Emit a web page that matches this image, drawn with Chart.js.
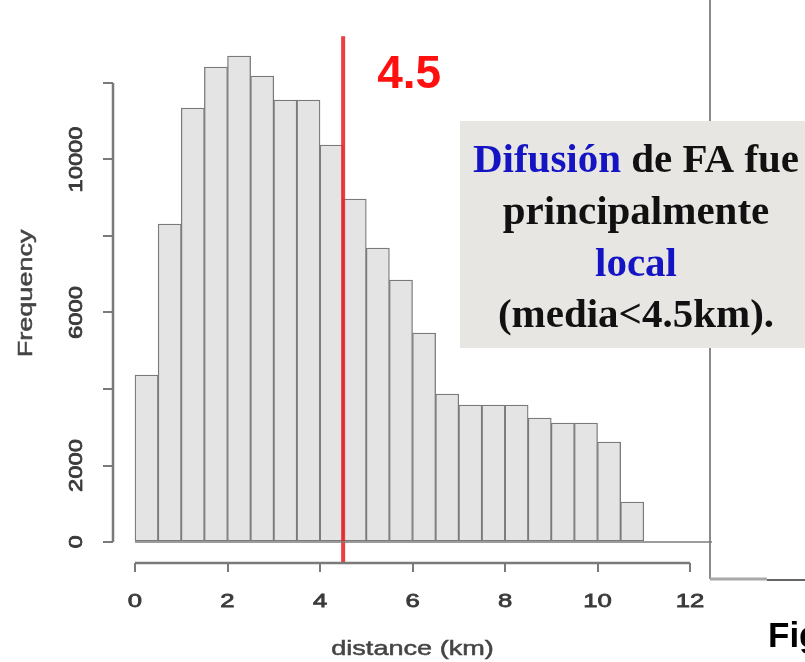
<!DOCTYPE html>
<html><head><meta charset="utf-8">
<script src="https://cdn.jsdelivr.net/npm/chart.js@4.4.1/dist/chart.umd.min.js"></script>
<style>html,body{margin:0;padding:0;background:#fff;}#wrap{position:relative;width:805px;height:662px;}canvas{display:block;}</style>
</head><body><div id="wrap"><canvas id="c" width="805" height="662"></canvas></div>
<script>
// ---- data ----
const binStarts = [0,0.5,1,1.5,2,2.5,3,3.5,4,4.5,5,5.5,6,6.5,7,7.5,8,8.5,9,9.5,10,10.5];
const binWidth = 0.5;
const frequencies = [4366,8314,11346,12418,12706,12183,11556,11556,10379,8967,7686,6850,5464,3869,3582,3582,3582,3242,3111,3111,2614,1046];
const meanDistance = 4.5;
const meanLineTop = 13220;
const meanLabel = '4.5';
const xTickValues = [0,2,4,6,8,10,12];
const xTickLabels = ['0','2','4','6','8','10','12'];
const yTickValues = [0,2000,4000,6000,8000,10000,12000];
const yTickLabels = ['0','2000','','6000','','10000',''];
const xTitle = 'distance (km)';
const yTitle = 'Frequency';
const noteLine1 = [['Difusión','blue'],[' de FA fue','black']];
const noteLine2 = [['principalmente','black']];
const noteLine3 = [['local','blue']];
const noteLine4 = [['(media<4.5km).','black']];
const figLabel = 'Fig';

const X_MIN = -0.4757, X_MAX = 12.475, Y_MIN = -549, Y_MAX = 13647;
const COLORS = {blue:'#1414c4', black:'#111111'};

function sText(ctx, text, x, y, sx, font, color, align, rot, stroke) {
  ctx.save();
  ctx.translate(x, y);
  if (rot) ctx.rotate(rot);
  ctx.scale(sx, 1);
  ctx.font = font; ctx.fillStyle = color; ctx.textAlign = align; ctx.textBaseline = 'alphabetic';
  ctx.fillText(text, 0, 0);
  if (stroke) { ctx.strokeStyle = color; ctx.lineWidth = stroke; ctx.strokeText(text, 0, 0); }
  ctx.restore();
}
function line(ctx, x1, y1, x2, y2, color, w) {
  ctx.save(); ctx.strokeStyle = color; ctx.lineWidth = w; ctx.beginPath();
  ctx.moveTo(x1, y1); ctx.lineTo(x2, y2); ctx.stroke(); ctx.restore();
}

const decor = {
  id: 'decor',
  beforeDraw(chart) {
    const ctx = chart.ctx;
    // slide frame lines
    line(ctx, 710, 0, 710, 579, '#8a8a8a', 2);
    line(ctx, 710, 579, 767, 579, '#a8a8a8', 3);
    line(ctx, 767, 580, 805, 580, '#333333', 1.5);
  },
  afterDraw(chart) {
    const ctx = chart.ctx;
    const xs = chart.scales.x, ys = chart.scales.y, ca = chart.chartArea;
    const axisCol = '#7a7a7a';
    // axes lines
    line(ctx, xs.getPixelForValue(xTickValues[0]), ca.bottom, xs.getPixelForValue(xTickValues[xTickValues.length-1]), ca.bottom, axisCol, 2.5);
    line(ctx, ca.left, ys.getPixelForValue(yTickValues[0]), ca.left, ys.getPixelForValue(yTickValues[yTickValues.length-1]), axisCol, 2.5);
    // baseline
    line(ctx, xs.getPixelForValue(0), ys.getPixelForValue(0), ca.right, ys.getPixelForValue(0), '#7b7b7b', 1.5);
    // tick labels
    const tf = '19px "Liberation Sans", Arial, sans-serif';
    xTickValues.forEach((v, i) => sText(ctx, xTickLabels[i], xs.getPixelForValue(v), ca.bottom + 44, 1.35, tf, '#3a3a3a', 'center', 0, 0.8));
    yTickValues.forEach((v, i) => { if (yTickLabels[i]) sText(ctx, yTickLabels[i], ca.left - 31, ys.getPixelForValue(v), 1.25, tf, '#3a3a3a', 'center', -Math.PI/2, 0.8); });
    // titles
    sText(ctx, xTitle, xs.getPixelForValue(6), ca.bottom + 92, 1.29, '21px "Liberation Sans", Arial, sans-serif', '#444', 'center', 0, 0.5);
    sText(ctx, yTitle, 32, ys.getPixelForValue(6500), 1.35, '20px "Liberation Sans", Arial, sans-serif', '#444', 'center', -Math.PI/2, 0.5);
    // mean label
    sText(ctx, meanLabel, xs.getPixelForValue(meanDistance) + 34, 88, 1, 'bold 46px "Liberation Sans", Arial, sans-serif', '#ff1010', 'left');
    // note box
    ctx.save(); ctx.fillStyle = '#e8e6e3'; ctx.fillRect(460, 121, 345, 227); ctx.restore();
    const nf = 'bold 41px "Liberation Serif", "Times New Roman", serif';
    const lines = [noteLine1, noteLine2, noteLine3, noteLine4];
    const baselines = [172, 224, 276, 327];
    ctx.save(); ctx.font = nf;
    lines.forEach((segs, li) => {
      const total = segs.reduce((a, s) => a + ctx.measureText(s[0]).width, 0);
      let x = 636 - total / 2;
      segs.forEach(s => {
        ctx.fillStyle = COLORS[s[1]]; ctx.textAlign = 'left'; ctx.textBaseline = 'alphabetic';
        ctx.fillText(s[0], x, baselines[li]);
        x += ctx.measureText(s[0]).width;
      });
    });
    ctx.restore();
    // Fig
    sText(ctx, figLabel, 768, 647, 1, 'bold 35px "Liberation Sans", Arial, sans-serif', '#000', 'left');
  }
};

const ctx = document.getElementById('c').getContext('2d');
new Chart(ctx, {
  type: 'bar',
  data: {
    datasets: [
      {
        type: 'line', order: 0,
        data: [{x: meanDistance, y: Y_MIN}, {x: meanDistance, y: meanLineTop}],
        borderColor: 'rgba(235,35,38,0.88)', borderWidth: 4, pointRadius: 0, borderCapStyle: 'butt', clip: false
      },
      {
        type: 'bar', order: 1,
        data: binStarts.map((s, i) => ({x: s + binWidth / 2, y: frequencies[i]})),
        backgroundColor: '#e4e4e4', borderColor: '#7a7a7a', borderWidth: 1.3, borderSkipped: false,
        barPercentage: 1, categoryPercentage: 1, grouped: false
      }
    ]
  },
  options: {
    responsive: false, animation: false, devicePixelRatio: 1,
    layout: {padding: {left: 0, right: 93, top: 20, bottom: 0}},
    plugins: {legend: {display: false}, tooltip: {enabled: false}},
    scales: {
      x: {
        type: 'linear', min: X_MIN, max: X_MAX, offset: false,
        afterBuildTicks: s => { s.ticks = xTickValues.map(v => ({value: v})); },
        afterFit: s => { s.height = 99; },
        ticks: {display: false},
        grid: {offset: false, drawOnChartArea: false, drawTicks: true, tickLength: 9, color: '#7a7a7a', lineWidth: 2},
        border: {display: false}
      },
      y: {
        type: 'linear', min: Y_MIN, max: Y_MAX,
        afterBuildTicks: s => { s.ticks = yTickValues.map(v => ({value: v})); },
        afterFit: s => { s.width = 113; },
        ticks: {display: false},
        grid: {drawOnChartArea: false, drawTicks: true, tickLength: 10, color: '#7a7a7a', lineWidth: 2},
        border: {display: false}
      }
    }
  },
  plugins: [decor]
});
</script></body></html>
